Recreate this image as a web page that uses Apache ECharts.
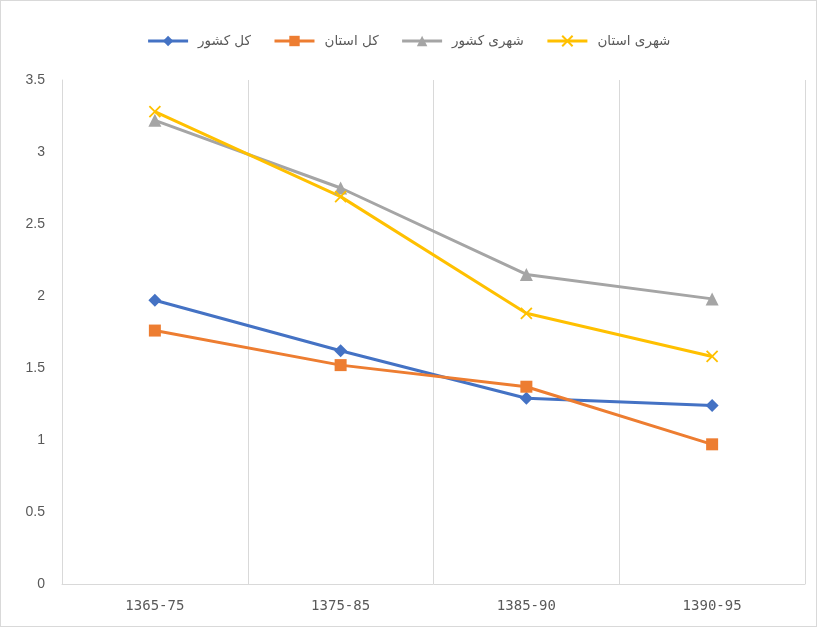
<!DOCTYPE html>
<html>
<head>
<meta charset="utf-8">
<script src="https://cdn.jsdelivr.net/npm/echarts@6/dist/echarts.min.js"></script>
<style>
  html, body { margin: 0; padding: 0; background: #fff; }
  #frame { position: absolute; left: 0; top: 0; width: 815px; height: 625px; border: 1px solid #d9d9d9; }
  #chart { width: 817px; height: 627px; position: absolute; left: 0; top: 0; }
</style>
</head>
<body>
<div id="frame"></div>
<div id="chart"></div>
<script>
// Periods on the horizontal axis
const periods = ['1365-75', '1375-85', '1385-90', '1390-95'];

// Series names
const nameCountryTotal = 'کل کشور';
const nameProvinceTotal = 'کل استان';
const nameCountryUrban = 'شهری کشور';
const nameProvinceUrban = 'شهری استان';

// Values per period
const countryTotal = [1.97, 1.62, 1.29, 1.24];
const provinceTotal = [1.76, 1.52, 1.37, 0.97];
const countryUrban = [3.22, 2.75, 2.15, 1.98];
const provinceUrban = [3.28, 2.69, 1.88, 1.58];

const crossPath = 'path://M0,0L10,10M10,0L0,10';
const labelColor = '#595959';
const gridColor = '#d9d9d9';

const chart = echarts.init(document.getElementById('chart'));

function lineSeries(name, data, color, symbol, size, extra) {
  return Object.assign({
    name: name,
    type: 'line',
    data: data,
    symbol: symbol,
    symbolSize: size,
    showAllSymbol: true,
    lineStyle: { color: color, width: 3 },
    itemStyle: { color: color },
    emphasis: { disabled: true },
    z: 3
  }, extra || {});
}

chart.setOption({
  animation: false,
  textStyle: { fontFamily: 'DejaVu Sans' },
  legend: {
    top: 29,
    left: 'center',
    itemWidth: 40,
    itemHeight: 13,
    itemGap: 22,
    lineStyle: { width: 3 },
    textStyle: { color: labelColor, fontSize: 13.5, fontFamily: 'DejaVu Sans', padding: [0, 0, 0, 5] },
    data: [nameCountryTotal, nameProvinceTotal, nameCountryUrban, nameProvinceUrban]
  },
  grid: { left: 62, right: 12, top: 80, bottom: 43 },
  xAxis: {
    type: 'category',
    data: periods,
    boundaryGap: true,
    axisLine: { show: true, lineStyle: { color: gridColor, width: 1 } },
    axisTick: { show: false },
    splitLine: { show: true, lineStyle: { color: gridColor, width: 1 } },
    axisLabel: { color: labelColor, fontSize: 14, margin: 15, fontFamily: 'DejaVu Sans Mono' }
  },
  yAxis: {
    type: 'value',
    min: 0,
    max: 3.5,
    interval: 0.5,
    axisLine: { show: true, lineStyle: { color: gridColor, width: 1 } },
    axisTick: { show: false },
    splitLine: { show: false },
    axisLabel: { color: labelColor, fontSize: 14, margin: 17, fontFamily: 'Liberation Sans' }
  },
  series: [
    lineSeries(nameCountryTotal, countryTotal, '#4472C4', 'diamond', 13),
    lineSeries(nameProvinceTotal, provinceTotal, '#ED7D31', 'rect', 12),
    lineSeries(nameCountryUrban, countryUrban, '#A5A5A5', 'triangle', 13),
    lineSeries(nameProvinceUrban, provinceUrban, '#FFC000', crossPath, 11, {
      itemStyle: { color: '#FFC000', borderColor: '#FFC000', borderWidth: 1.8 }
    })
  ]
});
</script>
</body>
</html>
